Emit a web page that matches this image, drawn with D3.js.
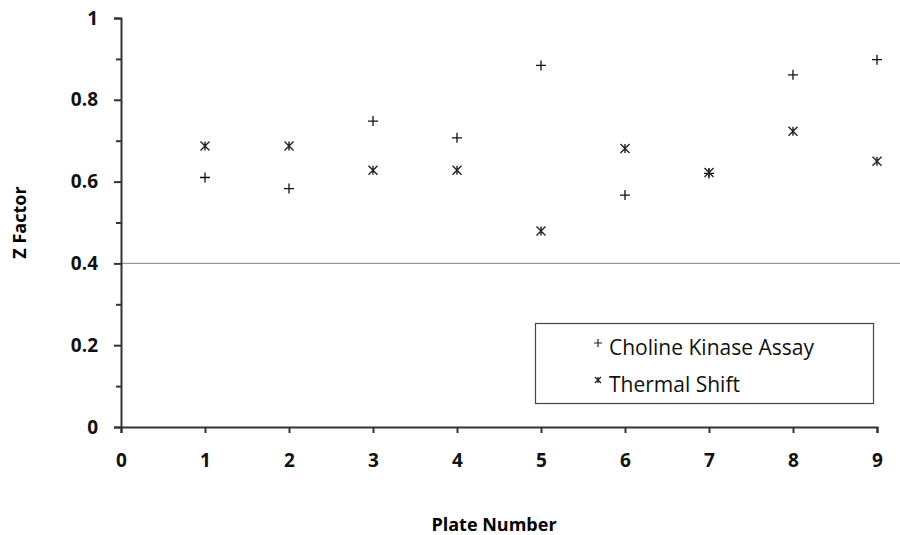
<!DOCTYPE html>
<html>
<head>
<meta charset="utf-8">
<script src="https://cdn.jsdelivr.net/npm/d3@7"></script>
<style>
  body { margin: 0; background: #fff; }
  text { font-family: "Open Sans", "Liberation Sans", sans-serif; }
</style>
</head>
<body>
<svg id="chart"></svg>
<script>
const plates = [1, 2, 3, 4, 5, 6, 7, 8, 9];
const cholineKinase = [0.61, 0.583, 0.748, 0.707, 0.884, 0.567, 0.62, 0.861, 0.898];
const thermalShift = [0.687, 0.687, 0.628, 0.628, 0.479, 0.681, 0.622, 0.723, 0.650];
const xTicks = [0, 1, 2, 3, 4, 5, 6, 7, 8, 9];
const yTicks = [0, 0.2, 0.4, 0.6, 0.8, 1];
const yMinor = [0.1, 0.3, 0.5, 0.7, 0.9];
const cutoff = 0.4;
const seriesNames = ["Choline Kinase Assay", "Thermal Shift"];

const width = 900, height = 535;
const svg = d3.select("#chart").attr("width", width).attr("height", height);

const x = d3.scaleLinear().domain([0, 9]).range([121, 877]);
const y = d3.scaleLinear().domain([0, 1]).range([427, 18]);

// threshold line
svg.append("line")
  .attr("x1", x(0)).attr("x2", width)
  .attr("y1", y(cutoff)).attr("y2", y(cutoff))
  .attr("stroke", "#999").attr("stroke-width", 1.2);

// y axis
svg.append("g").attr("transform", `translate(${x(0)},0)`)
  .call(d3.axisLeft(y).tickValues(yTicks).tickSize(7).tickPadding(16).tickFormat(d3.format("")));
svg.append("g").attr("transform", `translate(${x(0)},0)`)
  .call(d3.axisLeft(y).tickValues(yMinor).tickSize(5).tickFormat(""))
  .call(g => g.select(".domain").remove());

// x axis
svg.append("g").attr("transform", `translate(0,${y(0)})`)
  .call(d3.axisBottom(x).tickValues(xTicks).tickSize(6).tickPadding(21).tickFormat(d3.format("d")));

svg.selectAll(".domain, .tick line").attr("stroke", "#333").attr("stroke-width", 2);
svg.selectAll(".tick text")
  .attr("font-size", 19).attr("font-weight", "bold").attr("fill", "#111");

// axis titles
svg.append("text")
  .attr("x", 494).attr("y", 531)
  .attr("text-anchor", "middle")
  .attr("font-size", 18).attr("font-weight", "bold")
  .text("Plate Number");
svg.append("text")
  .attr("transform", `translate(26,${y(0.5)}) rotate(-90)`)
  .attr("text-anchor", "middle")
  .attr("font-size", 18).attr("font-weight", "bold")
  .text("Z Factor");

// markers
const plus = s => `M${-s},0H${s}M0,${-s}V${s}`;
const star = s => `M${-s},${-s}L${s},${s}M${-s},${s}L${s},${-s}M0,${-s}V${s}`;

svg.append("g").selectAll("path")
  .data(plates)
  .join("path")
  .attr("transform", (d, i) => `translate(${x(d)},${y(cholineKinase[i])})`)
  .attr("d", plus(5))
  .attr("fill", "none").attr("stroke", "#111").attr("stroke-width", 1.3);

svg.append("g").selectAll("path")
  .data(plates)
  .join("path")
  .attr("transform", (d, i) => `translate(${x(d)},${y(thermalShift[i])})`)
  .attr("d", star(4.5))
  .attr("fill", "none").attr("stroke", "#222").attr("stroke-width", 1.4);

// legend
const legend = svg.append("g");
legend.append("rect")
  .attr("x", 535.5).attr("y", 323.5).attr("width", 338).attr("height", 80)
  .attr("fill", "#fff").attr("stroke", "#444").attr("stroke-width", 1.2);
const markers = [plus(4), star(3)];
seriesNames.forEach((name, i) => {
  const ly = 348 + i * 37;
  legend.append("path")
    .attr("transform", `translate(598,${ly - 5})`)
    .attr("d", markers[i])
    .attr("fill", "none").attr("stroke", "#222").attr("stroke-width", 1.2);
  legend.append("text")
    .attr("x", 609).attr("y", ly + 7)
    .attr("font-size", 21).attr("fill", "#111")
    .text(name);
});
</script>
</body>
</html>
